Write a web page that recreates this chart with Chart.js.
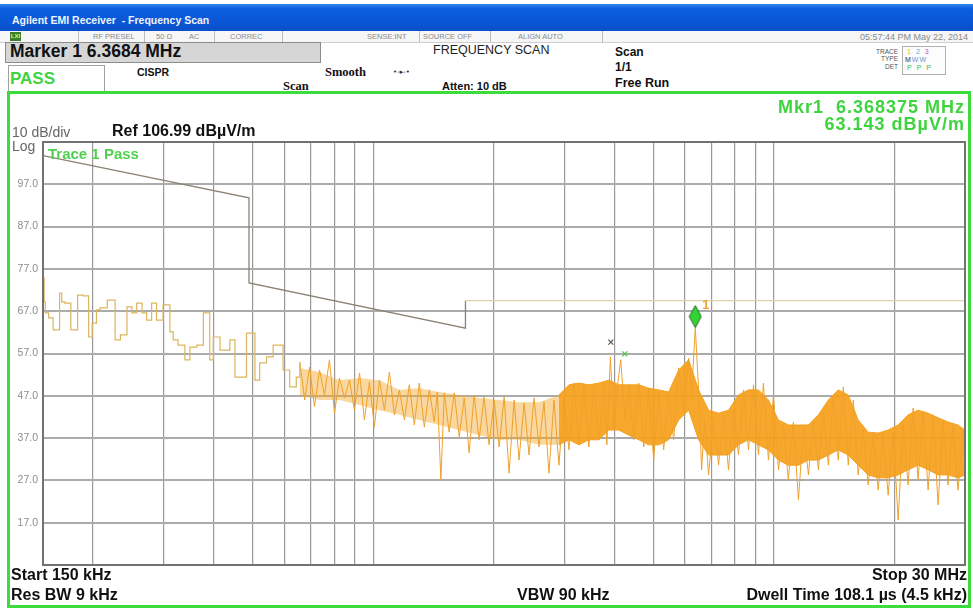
<!DOCTYPE html>
<html>
<head>
<meta charset="utf-8">
<script src="https://cdn.jsdelivr.net/npm/chart.js@4.4.1/dist/chart.umd.min.js"></script>
<style>
  body { margin: 0; width: 973px; height: 608px; overflow: hidden; background: #fff; position: relative;
         font-family: "Liberation Sans", Arial, sans-serif; color: #111; }
  .abs { position: absolute; white-space: nowrap; line-height: 1; }
  #titlebar { left: 0; top: 4px; width: 973px; height: 27px;
              background: linear-gradient(180deg, #3585f2 0%, #0b5ede 18%, #0a58d8 60%, #0a4fc6 100%); }
  #titlebar span { position: absolute; left: 12px; top: 10px; font: bold 10.5px "Liberation Sans", Arial; color: #eef3ff; }
  #status { left: 0; top: 31px; width: 973px; height: 11px; background: #f6f6f6; border-bottom: 1px solid #cfcfcf; }
  .st { font-size: 7.5px; color: #8a8a8a; top: 33px; }
  .sep { position: absolute; top: 31px; width: 1px; height: 11px; background: #bdbdbd; }
  #markerBox { left: 5px; top: 42px; width: 314px; height: 19px; background: #d6d6d6; border: 1px solid #8c8c8c; }
  #passBox { left: 8px; top: 65px; width: 95px; height: 26px; background: #fff; border: 1px solid #a0a0a0; }
  .serif { font-family: "Liberation Serif", "Times New Roman", serif; font-weight: bold; }
  #traceBox { left: 902px; top: 46px; width: 42px; height: 27px; border: 1px solid #b0b0b0; background: #fcfcfc; }
  .tl { font-size: 6.5px; color: #555; }
  #frame { left: 7px; top: 91px; width: 958px; height: 511px; border: 3px solid #3ddc3d; }
  #chart { position: absolute; left: 0; top: 0; }
  .green { color: #3fd43f; font-weight: bold; }
  .bottom { font-weight: bold; font-size: 16px; }
</style>
</head>
<body>
<div id="titlebar" class="abs"><span>Agilent EMI Receiver &nbsp;- Frequency Scan</span></div>
<div id="status" class="abs"></div>
<div class="abs" style="left:10px;top:32px;width:11px;height:9px;background:#3b7f2a;color:#d8ff70;font:bold 6px 'Liberation Sans';line-height:9px;text-align:center;">LXI</div>
<div class="sep" style="left:78px"></div>
<div class="sep" style="left:144px"></div>
<div class="sep" style="left:214px"></div>
<div class="sep" style="left:282px"></div>
<div class="sep" style="left:419px"></div>
<div class="sep" style="left:490px"></div>
<div class="sep" style="left:602px"></div>
<div class="abs st" style="left:93px">RF PRESEL</div>
<div class="abs st" style="left:156px">50 Ω</div>
<div class="abs st" style="left:189px">AC</div>
<div class="abs st" style="left:230px">CORREC</div>
<div class="abs st" style="left:367px">SENSE:INT</div>
<div class="abs st" style="left:423px">SOURCE OFF</div>
<div class="abs st" style="left:518px">ALIGN AUTO</div>
<div class="abs st" style="right:5px;font-size:9px;top:32.5px">05:57:44 PM May 22, 2014</div>

<div id="markerBox" class="abs"></div>
<div class="abs" style="left:10px;top:43px;font-weight:bold;font-size:17.5px">Marker 1 6.3684 MHz</div>
<div id="passBox" class="abs"></div>
<div class="abs" style="left:10px;top:70px;font-weight:bold;font-size:17px;color:#3fd43f">PASS</div>
<div class="abs" style="left:137px;top:66.5px;font-weight:bold;font-size:10.5px">CISPR</div>
<div class="abs serif" style="left:325px;top:66px;font-size:12.5px">Smooth</div>
<div class="abs serif" style="left:283px;top:80px;font-size:12.5px">Scan</div>
<div class="abs" style="left:393px;top:68px;font:7px 'DejaVu Sans';color:#333">•-▸-•</div>
<div class="abs" style="left:433px;top:43.5px;font-size:12.5px;color:#222">FREQUENCY SCAN</div>
<div class="abs" style="left:442px;top:80.5px;font-weight:bold;font-size:11px">Atten: 10 dB</div>
<div class="abs" style="left:615px;top:45.5px;font-weight:bold;font-size:12px">Scan</div>
<div class="abs" style="left:615px;top:60.5px;font-weight:bold;font-size:12px">1/1</div>
<div class="abs" style="left:615px;top:76.5px;font-weight:bold;font-size:12.5px">Free Run</div>

<div class="abs tl" style="right:75px;top:49px">TRACE</div>
<div class="abs tl" style="right:75px;top:56px">TYPE</div>
<div class="abs tl" style="right:75px;top:64px">DET</div>
<div id="traceBox" class="abs"></div>
<div class="abs" style="left:907px;top:48px;font-size:7px;letter-spacing:5px"><span style="color:#d6c400">1</span><span style="color:#35b6e6">2</span><span style="color:#c64cc6">3</span></div>
<div class="abs" style="left:905px;top:56px;font-size:7px;letter-spacing:1px"><span style="color:#333">M</span><span style="color:#6a8fd8">WW</span></div>
<div class="abs" style="left:907px;top:64px;font-size:7px;letter-spacing:5px;color:#3cc03c">PPP</div>

<div id="frame" class="abs"></div>
<canvas id="chart" width="973" height="608"></canvas>

<div class="abs green" style="right:8px;top:97.5px;font-size:18px;letter-spacing:1px">Mkr1&nbsp; 6.368375 MHz</div>
<div class="abs green" style="right:8px;top:114.5px;font-size:18px;letter-spacing:1px">63.143 dBµV/m</div>
<div class="abs" style="left:12px;top:125px;font-size:14px;color:#666">10 dB/div</div>
<div class="abs" style="left:12px;top:138.5px;font-size:14px;color:#666">Log</div>
<div class="abs" style="left:112px;top:123px;font-size:16px;font-weight:bold">Ref 106.99 dBµV/m</div>
<div class="abs" style="left:48px;top:146px;font-size:15px;font-weight:bold;color:#4fd04f">Trace 1 Pass</div>
<div class="abs bottom" style="left:11px;top:567px">Start 150 kHz</div>
<div class="abs bottom" style="left:11px;top:587px">Res BW 9 kHz</div>
<div class="abs bottom" style="left:517px;top:587px">VBW 90 kHz</div>
<div class="abs bottom" style="right:6px;top:567px">Stop 30 MHz</div>
<div class="abs bottom" style="right:6px;top:587px">Dwell Time 108.1 µs (4.5 kHz)</div>

<script>
// Axis layout (MHz, dBuV/m)
const xGridMHz = [0.2, 0.3, 0.4, 0.5, 0.6, 0.7, 0.8, 0.9, 1, 2, 3, 4, 5, 6, 7, 8, 9, 10, 20];
const yTickLevels = [17, 27, 37, 47, 57, 67, 77, 87, 97];

// CISPR limit line
const limitFreq = [0.15, 0.49, 0.49, 1.7, 1.7, 30];
const limitLevel = [103.8, 93.8, 73.7, 63.0, 69.5, 69.5];

// Trace 1, low band (stepped)
const lowFreq = [0.150, 0.151, 0.152, 0.155, 0.159, 0.165, 0.167, 0.170, 0.176, 0.183,
  0.189, 0.195, 0.199, 0.204, 0.208, 0.217, 0.227, 0.234, 0.243, 0.250,
  0.257, 0.265, 0.272, 0.280, 0.288, 0.299, 0.311, 0.317, 0.326, 0.339,
  0.349, 0.363, 0.377, 0.391, 0.399, 0.415, 0.439, 0.452, 0.483, 0.507,
  0.521, 0.542, 0.563, 0.596, 0.619, 0.643, 0.656];
const lowLevel = [74.8, 69.2, 66.6, 65.4, 62.6, 71.3, 69.2, 68.9, 62.6, 70.8,
  70.6, 60.9, 64.2, 67.3, 67.8, 69.6, 60.2, 61.4, 68.0, 66.6,
  68.9, 66.6, 64.9, 68.9, 64.9, 68.5, 62.1, 60.2, 59.0, 55.5,
  58.5, 59.0, 66.6, 55.5, 60.9, 57.8, 60.2, 51.4, 61.8, 50.7,
  54.8, 56.2, 59.0, 53.1, 49.1, 51.4, 55.0];

// Trace 1, spikes from 0.66 MHz up
const midFreq = [0.656, 0.675, 0.694, 0.714, 0.735, 0.756, 0.778, 0.801, 0.824, 0.848,
  0.873, 0.898, 0.925, 0.951, 0.979, 1.007, 1.037, 1.067, 1.098, 1.130,
  1.163, 1.197, 1.231, 1.267, 1.304, 1.342, 1.381, 1.421, 1.446, 1.476,
  1.505, 1.548, 1.594, 1.640, 1.688, 1.736, 1.787, 1.839, 1.892, 1.947,
  2.005, 2.063, 2.123, 2.184, 2.248, 2.313, 2.381, 2.450, 2.521, 2.594,
  2.670, 2.747, 2.827, 2.909, 2.994, 3.081, 3.170, 3.263, 3.357, 3.455,
  3.556, 3.659, 3.765, 3.831, 3.910, 3.990, 4.060, 4.150, 4.250, 4.350,
  4.470, 4.600, 4.736, 4.873, 5.015, 5.161, 5.311, 5.465, 5.625, 5.788,
  5.957, 6.129, 6.234, 6.368, 6.491, 6.604, 6.718, 6.874, 7.074, 7.279,
  7.491, 7.708, 7.933, 8.163, 8.401, 8.645, 8.897, 9.155, 9.422, 9.695,
  9.979, 10.27, 10.57, 10.87, 11.19, 11.52, 11.85, 12.20, 12.55, 12.92,
  13.29, 13.68, 14.08, 14.48, 14.91, 15.34, 15.79, 16.24, 16.72, 17.20,
  17.70, 18.22, 18.75, 19.29, 19.86, 20.43, 21.03, 21.64, 22.27, 22.91,
  23.58, 24.27, 24.97, 25.70, 26.45, 27.21, 28.01, 28.82, 29.66, 30.0];
const midLevel = [55.0, 46.0, 53.8, 44.4, 53.1, 47.2, 55.5, 42.9, 51.2, 46.5,
  50.7, 43.6, 52.4, 41.3, 50.3, 39.6, 50.7, 43.6, 52.6, 42.5,
  48.4, 41.3, 49.6, 40.1, 50.0, 39.6, 48.4, 40.8, 47.9, 27.1,
  47.7, 38.4, 47.7, 37.3, 46.5, 33.5, 47.2, 36.6, 46.7, 35.4,
  46.0, 34.9, 46.7, 28.7, 46.0, 31.8, 45.3, 33.0, 46.5, 34.9,
  45.5, 28.7, 46.0, 30.6, 46.7, 34.2, 50.0, 35.4, 49.6, 34.9,
  49.1, 36.6, 50.0, 35.4, 56.2, 38.9, 48.4, 55.5, 41.3, 49.6,
  36.6, 50.0, 34.9, 48.8, 31.8, 47.9, 34.2, 47.2, 36.6, 53.6,
  43.6, 55.9, 47.2, 63.143, 48.4, 29.5, 41.3, 28.3, 41.8, 30.6,
  42.5, 29.5, 43.6, 33.0, 48.4, 34.2, 49.6, 33.0, 50.0, 31.8,
  47.2, 29.5, 40.1, 27.1, 40.8, 22.4, 39.4, 28.3, 41.3, 29.5,
  43.2, 30.6, 47.2, 31.8, 49.1, 30.6, 46.0, 28.3, 38.9, 25.9,
  37.7, 24.7, 38.2, 23.5, 38.4, 17.6, 40.1, 25.9, 44.1, 27.1,
  43.2, 24.7, 42.5, 21.2, 41.3, 25.9, 40.1, 24.7, 38.9, 29.5];

// Sparse noise body 0.66 - 2.9 MHz: upper / lower edge
const midBandFreq = [0.656, 0.735, 0.824, 0.925, 1.037, 1.163, 1.304, 1.462, 1.640, 1.839, 2.063, 2.313, 2.594, 2.909];
const midBandHigh = [53.6, 52.6, 50.7, 51.2, 50.7, 48.4, 48.8, 47.9, 47.2, 46.5, 46.0, 45.5, 45.5, 47.2];
const midBandLow = [47.2, 46.0, 46.0, 44.8, 43.6, 42.5, 41.3, 40.1, 38.9, 37.7, 36.6, 36.6, 35.4, 35.4];

// Dense noise band above 3 MHz: upper / lower edge
const envFreq = [2.909, 3.081, 3.263, 3.455, 3.659, 3.875, 4.104, 4.346, 4.603, 4.873,
  5.161, 5.465, 5.788, 6.129, 6.491, 6.874, 7.279, 7.708, 8.163, 8.645,
  9.155, 9.695, 10.27, 10.87, 11.52, 12.20, 12.92, 13.68, 14.48, 15.34,
  16.24, 17.20, 18.22, 19.29, 20.43, 21.64, 22.91, 24.27, 25.70, 27.21, 28.82, 30.0];
const envHigh = [47.2, 49.6, 50.0, 49.6, 50.0, 50.7, 49.6, 49.6, 49.6, 48.8,
  48.4, 47.9, 53.1, 55.5, 48.4, 43.6, 42.9, 43.6, 47.2, 48.4,
  48.4, 46.0, 41.3, 40.1, 40.1, 40.1, 42.5, 46.0, 48.4, 47.2,
  41.3, 38.4, 38.2, 38.9, 40.1, 42.5, 43.6, 42.9, 41.8, 40.8, 40.1, 38.9];
const envLow = [35.4, 36.6, 35.4, 36.6, 36.6, 38.9, 38.9, 37.7, 36.6, 35.4,
  35.4, 36.6, 41.3, 43.6, 36.6, 33.0, 33.0, 33.0, 35.4, 36.6,
  35.4, 34.2, 31.8, 30.6, 30.6, 31.8, 31.8, 33.0, 34.2, 33.0,
  30.6, 28.3, 27.6, 27.6, 28.3, 29.5, 30.6, 29.5, 28.3, 28.3, 27.6, 28.3];

// Markers
const markerFreq = [6.368375];
const markerLevel = [63.143];
const deltaFreq = [3.92, 4.247];
const deltaLevel = [59.7, 56.9];

function toPoints(xs, ys) {
  return xs.map(function(x, i) { return { x: x, y: ys[i] }; });
}

// green diamond, bottom tip sits on the marked point
function diamondIcon() {
  const c = document.createElement('canvas');
  c.width = 14; c.height = 50;
  const g = c.getContext('2d');
  g.beginPath();
  g.moveTo(7, 3); g.lineTo(13, 14); g.lineTo(7, 25); g.lineTo(1, 14); g.closePath();
  g.fillStyle = '#2fd62f'; g.fill();
  g.strokeStyle = '#2b5f2b'; g.lineWidth = 1; g.stroke();
  return c;
}

const plotFrame = {
  id: 'plotFrame',
  afterDatasetsDraw(chart) {
    const ctx = chart.ctx, a = chart.chartArea;
    ctx.save();
    ctx.strokeStyle = '#727272';
    ctx.lineWidth = 2;
    ctx.strokeRect(a.left, a.top, a.right - a.left, a.bottom - a.top);
    const pt = chart.getDatasetMeta(0).data[0];
    ctx.fillStyle = '#f2a43c';
    ctx.font = 'bold 13px "Liberation Sans"';
    ctx.fillText('1', pt.x + 7, pt.y - 19);
    ctx.restore();
  }
};

Chart.defaults.font.family = '"Liberation Sans", Arial, sans-serif';

new Chart(document.getElementById('chart'), {
  type: 'scatter',
  data: {
    datasets: [
      { label: 'Marker 1', data: toPoints(markerFreq, markerLevel), pointStyle: diamondIcon(), pointRadius: 7 },
      { label: 'Delta', data: toPoints(deltaFreq, deltaLevel), pointStyle: 'crossRot', pointRadius: 3.5,
        borderWidth: 1.2, pointBorderColor: ['#555555', '#46c846'] },
      { label: 'Limit', data: toPoints(limitFreq, limitLevel), showLine: true, pointRadius: 0, borderWidth: 1.3,
        borderColor: '#8b8272',
        segment: { borderColor: function(c) { return c.p0DataIndex >= 4 ? '#dcd3a8' : '#8b8272'; } } },
      { label: 'Trace low', data: toPoints(lowFreq, lowLevel), showLine: true, stepped: true, pointRadius: 0,
        borderWidth: 1.2, borderColor: '#dcb55e' },
      { label: 'Trace', data: toPoints(midFreq, midLevel), showLine: true, pointRadius: 0,
        borderWidth: 1, borderColor: '#eea12a' },
      { label: 'Body high', data: toPoints(midBandFreq, midBandHigh), showLine: true, pointRadius: 0, borderWidth: 0,
        backgroundColor: 'rgba(242,166,40,0.45)', fill: '+1' },
      { label: 'Body low', data: toPoints(midBandFreq, midBandLow), showLine: true, pointRadius: 0, borderWidth: 0 },
      { label: 'Band high', data: toPoints(envFreq, envHigh), showLine: true, pointRadius: 0, borderWidth: 1,
        borderColor: '#f5a11c', backgroundColor: 'rgba(246,160,26,0.92)', fill: '+1' },
      { label: 'Band low', data: toPoints(envFreq, envLow), showLine: true, pointRadius: 0, borderWidth: 1,
        borderColor: '#f5a11c' }
    ]
  },
  options: {
    responsive: false,
    animation: false,
    events: [],
    layout: { padding: { left: 3, top: 142, right: 6, bottom: 43 } },
    plugins: {
      legend: { display: false },
      tooltip: { enabled: false }
    },
    scales: {
      x: {
        type: 'logarithmic',
        min: 0.15,
        max: 30,
        afterBuildTicks: function(s) { s.ticks = xGridMHz.map(function(v) { return { value: v }; }); },
        afterFit: function(s) { s.height = 0; },
        ticks: { display: false },
        grid: { color: '#989898', lineWidth: 1.2, drawTicks: false },
        border: { display: false }
      },
      y: {
        min: 7,
        max: 107,
        afterBuildTicks: function(s) { s.ticks = yTickLevels.map(function(v) { return { value: v }; }); },
        afterFit: function(s) { s.width = 40; },
        ticks: {
          color: '#8e8e8e',
          padding: 5,
          font: { size: 10.5 },
          callback: function(v) { return Number(v).toFixed(1); }
        },
        grid: { color: '#ababab', lineWidth: 2, drawTicks: false },
        border: { display: false }
      }
    }
  },
  plugins: [plotFrame]
});
</script>
</body>
</html>
